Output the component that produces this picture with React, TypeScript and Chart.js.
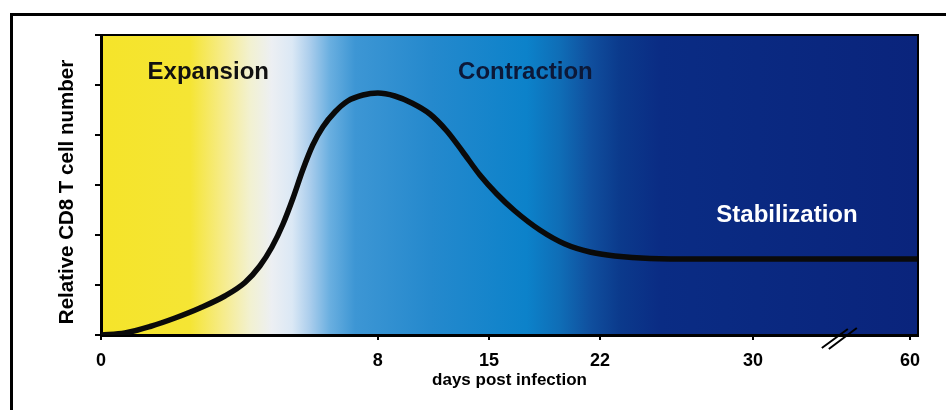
import React, { useEffect, useRef } from "react";
import { Chart, registerables } from "chart.js";

Chart.register(...registerables);

// x axis: tick labels (days) and where each sits along the broken axis
const tickDays = [0, 8, 15, 22, 30, 60];
const tickAxisPos = [0, 8, 11.21, 14.42, 18.84, 23.38];
const axisMax = 23.61;
const breakDay = 46.4;

// y axis
const yTicks = [0, 1, 2, 3, 4, 5, 6];
const yTitle = "Relative CD8 T cell number";
const xTitle = "days post infection";

// CD8 T cell curve
const curveDays = [
  0, 0.69, 1.42, 2.14, 2.86, 3.58, 4.16, 4.59, 4.94, 5.26, 5.55, 5.83, 6.12,
  6.41, 6.76, 7.13, 7.57, 8, 9.07, 10.14, 11.28, 12.35, 13.36, 14.43, 15.5,
  16.64, 18.21, 19.79, 21.37, 22.78, 24.61, 27.23, 30, 60, 61.5,
];
const curveValues = [
  0, 0.04, 0.17, 0.34, 0.54, 0.78, 1.05, 1.38, 1.76, 2.22, 2.74, 3.3, 3.8, 4.16,
  4.46, 4.68, 4.8, 4.84, 4.78, 4.64, 4.42, 4.08, 3.66, 3.2, 2.82, 2.48, 2.1,
  1.82, 1.66, 1.58, 1.53, 1.52, 1.52, 1.52, 1.52,
];

// phase annotations
const phaseLabels = ["Expansion", "Contraction", "Stabilization"];
const phaseDays = [3.1, 17.3, 36.5];
const phaseValues = [5.26, 5.26, 2.4];
const phaseColors = ["#111111", "#0c1838", "#ffffff"];

// background gradient stops
const gradStops = [0, 0.109, 0.152, 0.182, 0.209, 0.234, 0.256, 0.28, 0.311, 0.403, 0.521, 0.562, 0.599, 0.635, 0.684, 1];
const gradColors = [
  "#f5e42a", "#f5e534", "#f6ec90", "#f2f1d0", "#eceff3", "#dbe8f5", "#aacdec",
  "#6aafe0", "#3d96d4", "#2589cd", "#0c82ca", "#0f6db6", "#104f9e", "#0b3a8c",
  "#0a2c84", "#0a247c",
];

function dayToPos(d: number): number {
  const n = tickDays.length;
  for (let i = 0; i < n - 1; i++) {
    if (d <= tickDays[i + 1] || i === n - 2) {
      const t = (d - tickDays[i]) / (tickDays[i + 1] - tickDays[i]);
      return tickAxisPos[i] + t * (tickAxisPos[i + 1] - tickAxisPos[i]);
    }
  }
  return 0;
}

const FONT = "'Liberation Sans', Arial, Helvetica, sans-serif";

const decorPlugin = {
  id: "decor",
  beforeDraw(chart: any) {
    const { ctx, chartArea } = chart;
    const { left, right, top, bottom } = chartArea;
    ctx.save();
    const g = ctx.createLinearGradient(left, 0, right, 0);
    gradStops.forEach((s, i) => g.addColorStop(s, gradColors[i]));
    ctx.fillStyle = g;
    ctx.fillRect(left, top, right - left, bottom - top);
    ctx.restore();
  },
  afterDatasetsDraw(chart: any) {
    const { ctx, scales } = chart;
    ctx.save();
    ctx.font = `bold 24px ${FONT}`;
    ctx.textAlign = "center";
    ctx.textBaseline = "middle";
    phaseLabels.forEach((t, i) => {
      ctx.fillStyle = phaseColors[i];
      ctx.fillText(
        t,
        scales.x.getPixelForValue(dayToPos(phaseDays[i])),
        scales.y.getPixelForValue(phaseValues[i])
      );
    });
    ctx.restore();
  },
  afterDraw(chart: any) {
    const { ctx, chartArea, scales } = chart;
    const { left, right, top, bottom } = chartArea;
    ctx.save();
    ctx.strokeStyle = "#000";
    ctx.lineWidth = 2;
    ctx.beginPath();
    ctx.moveTo(left - 6, top);
    ctx.lineTo(right, top);
    ctx.lineTo(right, bottom);
    ctx.stroke();
    // axis break marks
    const bx = scales.x.getPixelForValue(dayToPos(breakDay));
    ctx.beginPath();
    ctx.moveTo(bx - 17, bottom + 13);
    ctx.lineTo(bx + 9, bottom - 6);
    ctx.moveTo(bx - 10, bottom + 14);
    ctx.lineTo(bx + 18, bottom - 7);
    ctx.stroke();
    // y axis title
    ctx.fillStyle = "#000";
    ctx.font = `bold 20.5px ${FONT}`;
    ctx.textAlign = "center";
    ctx.textBaseline = "middle";
    ctx.translate(67, (top + bottom) / 2 + 7);
    ctx.rotate(-Math.PI / 2);
    ctx.fillText(yTitle, 0, 0);
    ctx.setTransform(1, 0, 0, 1, 0, 0);
    // outer frame
    ctx.lineWidth = 3;
    ctx.strokeRect(11.5, 14.5, 3000, 3000);
    ctx.restore();
  },
};

export default function App() {
  const ref = useRef<HTMLCanvasElement | null>(null);
  useEffect(() => {
    document.body.style.margin = "0";
    const canvas = ref.current;
    if (!canvas) return;
    const chart = new Chart(canvas, {
      type: "line",
      data: {
        datasets: [
          {
            data: curveDays.map((d, i) => ({ x: dayToPos(d), y: curveValues[i] })),
            borderColor: "#0a0a0a",
            borderWidth: 5.5,
            pointRadius: 0,
            cubicInterpolationMode: "monotone",
            borderCapStyle: "butt",
            borderJoinStyle: "round",
            fill: false,
          },
        ],
      },
      options: {
        responsive: false,
        animation: false,
        devicePixelRatio: 1,
        layout: { padding: { left: 0, top: 35, right: 28, bottom: 0 } },
        plugins: {
          legend: { display: false },
          tooltip: { enabled: false },
          title: { display: false },
        },
        scales: {
          x: {
            type: "linear",
            min: 0,
            max: axisMax,
            afterBuildTicks: (scale: any) => {
              scale.ticks = tickDays.map((d) => ({ value: dayToPos(d) }));
            },
            afterFit: (scale: any) => {
              scale.height = 75;
            },
            ticks: {
              autoSkip: false,
              maxRotation: 0,
              padding: 10,
              color: "#000",
              font: { family: FONT, size: 18, weight: "bold" },
              callback: (_v: any, i: number) => String(tickDays[i]),
            },
            grid: {
              display: true,
              drawOnChartArea: false,
              drawTicks: true,
              tickLength: 5,
              color: "#000",
              lineWidth: 2,
            },
            border: { display: true, color: "#000", width: 3 },
            title: {
              display: true,
              text: xTitle,
              color: "#000",
              font: { family: FONT, size: 17, weight: "bold" },
              padding: { top: 0, bottom: 19 },
            },
          },
          y: {
            type: "linear",
            min: yTicks[0],
            max: yTicks[yTicks.length - 1],
            afterBuildTicks: (scale: any) => {
              scale.ticks = yTicks.map((v) => ({ value: v }));
            },
            afterFit: (scale: any) => {
              scale.width = 101;
            },
            ticks: { display: false },
            grid: {
              display: true,
              drawOnChartArea: false,
              drawTicks: true,
              tickLength: 6,
              color: "#000",
              lineWidth: 2,
            },
            border: { display: true, color: "#000", width: 3 },
          },
        },
      },
      plugins: [decorPlugin],
    } as any);
    return () => chart.destroy();
  }, []);
  return (
    <div style={{ width: 946, height: 410, background: "#fff" }}>
      <canvas ref={ref} width={946} height={410} style={{ display: "block" }} />
    </div>
  );
}
